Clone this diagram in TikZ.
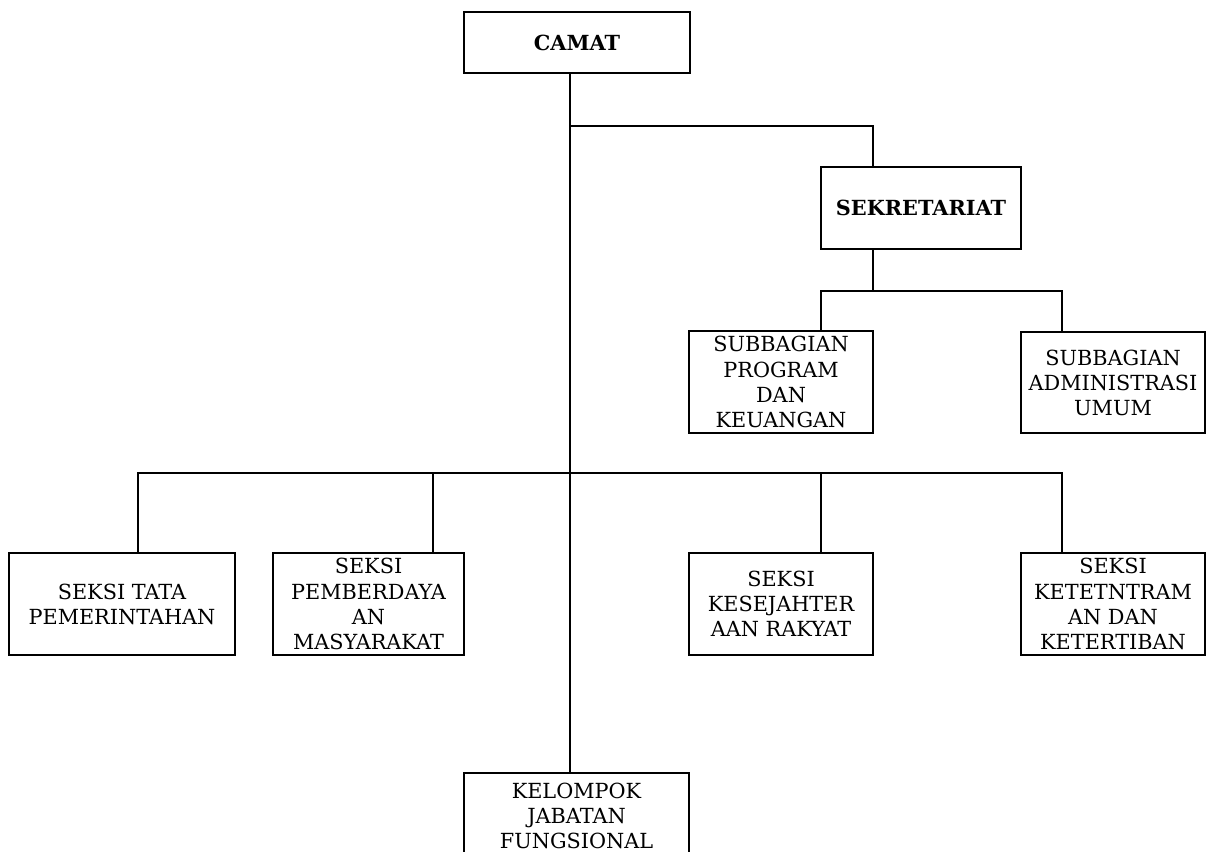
\documentclass[tikz,border=0pt]{standalone}
\usepackage{fontspec}
\setmainfont{DejaVu Serif}
\tikzset{
  unit/.style = {draw, line width=1.5pt, rectangle, inner sep=0pt,
                 align=center, font=\fontsize{15.6}{18.8}\selectfont},
  head/.style = {unit, font=\fontsize{15.6}{18.8}\selectfont\bfseries},
  link/.style = {line width=1.5pt}
}
\begin{document}
\begin{tikzpicture}[x=0.75pt, y=-0.75pt]
	\def \trunk{570}   % main line
	\def \yA{126}      % branch to sekretariat
	\def \yB{291}      % bus subbagian
	\def \yC{473}      % bus seksi
	\def \xS{873}      % sekretariat line
	\def \xL{821}      % left drops
	\def \xR{1062}     % right drops
	\def \xT{138}      % tata
	\def \xM{433}      % pemberdayaan

	\useasboundingbox (0,0) rectangle (1206,852);

	% Boxes
	\node[head, minimum width=226*0.75pt, minimum height=61*0.75pt] (camat) at (577,42.5) {CAMAT};
	\node[head, minimum width=200*0.75pt, minimum height=82*0.75pt] (sekr) at (921,208) {SEKRETARIAT};
	\node[unit, minimum width=184*0.75pt, minimum height=102*0.75pt] (subprog) at (781,382) {SUBBAGIAN\\PROGRAM\\DAN\\KEUANGAN};
	\node[unit, minimum width=184*0.75pt, minimum height=101*0.75pt] (subadm) at (1113,382.5) {SUBBAGIAN\\ADMINISTRASI\\UMUM};
	\node[unit, minimum width=226*0.75pt, minimum height=102*0.75pt] (tata) at (122,604) {SEKSI TATA\\PEMERINTAHAN};
	\node[unit, minimum width=191*0.75pt, minimum height=102*0.75pt] (pemb) at (368.5,604) {SEKSI\\PEMBERDAYA\\AN\\MASYARAKAT};
	\node[unit, minimum width=184*0.75pt, minimum height=102*0.75pt] (kesej) at (781,604) {SEKSI\\KESEJAHTER\\AAN RAKYAT};
	\node[unit, minimum width=184*0.75pt, minimum height=102*0.75pt] (ketent) at (1113,604) {SEKSI\\KETETNTRAM\\AN DAN\\KETERTIBAN};
	\node[unit, minimum width=225*0.75pt, minimum height=86*0.75pt] (kelompok) at (576.5,816) {KELOMPOK\\JABATAN\\FUNGSIONAL};

	% Lines
	\draw[link] (camat.south -| \trunk,0) -- (kelompok.north -| \trunk,0);
	\draw[link] (\trunk,\yA) -| (sekr.north -| \xS,0);
	\draw[link] (sekr.south -| \xS,0) -- (\xS,\yB);
	\draw[link] (subprog.north -| \xL,0) -- (\xL,\yB) -- (\xR,\yB) -- (subadm.north -| \xR,0);
	\draw[link] (tata.north -| \xT,0) -- (\xT,\yC) -- (\xR,\yC) -- (ketent.north -| \xR,0);
	\draw[link] (pemb.north -| \xM,0) -- (\xM,\yC);
	\draw[link] (kesej.north -| \xL,0) -- (\xL,\yC);

\end{tikzpicture}
\end{document}
